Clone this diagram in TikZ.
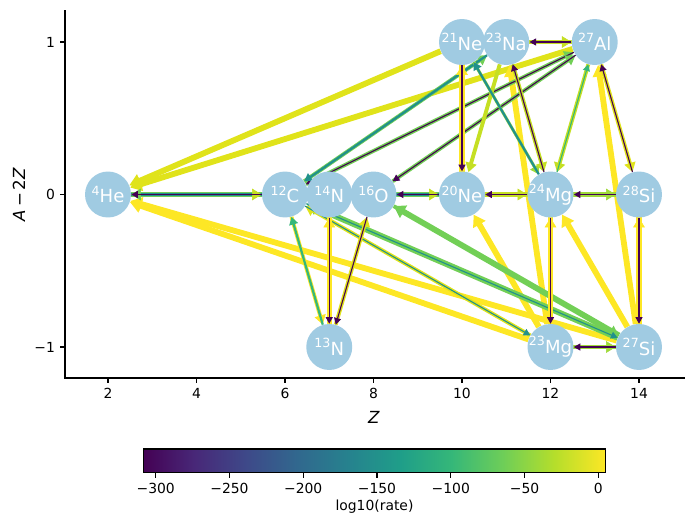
\documentclass[tikz,border=0pt]{standalone}
\usepackage{fontspec}
\setmainfont{DejaVu Sans}
\usetikzlibrary{arrows.meta}
\pgfdeclarelayer{edges}
\pgfsetlayers{edges,main}
\definecolor{nodeblue}{HTML}{A0CBE2}
\definecolor{vY}{HTML}{FDE725}
\definecolor{vYa}{HTML}{E0E31A}
\definecolor{vYG}{HTML}{C5DF23}
\definecolor{vLG}{HTML}{9FDA3A}
\definecolor{vG}{HTML}{72CF56}
\definecolor{vGT}{HTML}{35B779}
\definecolor{vT}{HTML}{21918C}
\definecolor{vD}{HTML}{440154}
\definecolor{v0}{HTML}{440154}
\definecolor{v1}{HTML}{482878}
\definecolor{v2}{HTML}{3E4989}
\definecolor{v3}{HTML}{31688E}
\definecolor{v4}{HTML}{26828E}
\definecolor{v5}{HTML}{1F9E89}
\definecolor{v6}{HTML}{35B779}
\definecolor{v7}{HTML}{6ECE58}
\definecolor{v8}{HTML}{B5DE2B}
\definecolor{v9}{HTML}{FDE725}
\pgfdeclarehorizontalshading{viridis}{100bp}{color(0bp)=(v0); color(25bp)=(v0); color(30.556bp)=(v1); color(36.111bp)=(v2); color(41.667bp)=(v3); color(47.222bp)=(v4); color(52.778bp)=(v5); color(58.333bp)=(v6); color(63.889bp)=(v7); color(69.444bp)=(v8); color(75bp)=(v9); color(100bp)=(v9)}
\newcommand{\iso}[2]{\raisebox{0.43em}{\fontsize{9.1}{9.1}\selectfont #1}#2}
% band between two node centres (hidden under the nodes at its ends)
\newcommand{\vband}[4]{\fill[#1] ([xshift=-#2]#3.center) rectangle ([xshift=#2]#4.center);}
\newcommand{\hband}[4]{\fill[#1] ([yshift=-#2]#3.center) rectangle ([yshift=#2]#4.center);}
\tikzset{
  nd/.style={circle, fill=nodeblue, minimum size=33.1pt, inner sep=0pt},
  lbl/.style={text=white, font=\fontsize{13}{15}\selectfont, inner sep=0pt},
  arr/.style={-{Triangle[length=4pt 1, width=4pt 1.4]}},
  tipm/.style={line width=0.4pt, -{Triangle[length=7pt, width=8.5pt]}},
  lwbig/.style={line width=4.2pt},
  lwmid/.style={line width=2.8pt},
  lwhair/.style={line width=1.6pt},
  lwthin/.style={line width=0.8pt},
  tick/.style={line width=0.8pt},
  ticklbl/.style={font=\fontsize{10}{12}\selectfont, inner sep=0pt},
}
\begin{document}
\begin{tikzpicture}[x=0.72pt, y=-0.72pt]
\useasboundingbox (0,0) rectangle (693,525);
% axes
\draw[tick] (65,10) -- (65,378) -- (685,378);
\foreach \z in {2,4,...,14} {
  \draw[tick] ({19.5+44.25*\z},378) -- ({19.5+44.25*\z},382.9);
  \node[ticklbl, anchor=north] at ({19.5+44.25*\z},387.8) {\z};
}
\draw[tick] (65,42) -- (60.1,42);
\draw[tick] (65,194.5) -- (60.1,194.5);
\draw[tick] (65,347) -- (60.1,347);
\node[ticklbl, anchor=east] (yl1) at (55.2,42) {1};
\node[ticklbl, anchor=east] (yl0) at (55.2,194.5) {0};
\node[ticklbl, anchor=east] (ylm) at (55.2,347) {−1};
\node[font=\fontsize{12}{14}\selectfont, inner sep=0pt] (xlab) at (374,417) {\textit{Z}};
\node[font=\fontsize{12}{14}\selectfont, inner sep=0pt, rotate=90] (ylab) at (19,194.5) {\textit{A}\,−\,2\textit{Z}};
% nodes
\node[nd] (He4) at (108,194.5) {};
\node[nd] (C12) at (285,194.5) {};
\node[nd] (N14) at (329.25,194.5) {};
\node[nd] (O16) at (373.5,194.5) {};
\node[nd] (Ne20) at (462,194.5) {};
\node[nd] (Mg24) at (550.5,194.5) {};
\node[nd] (Si28) at (639,194.5) {};
\node[nd] (N13) at (329.25,347) {};
\node[nd] (Mg23) at (550.5,347) {};
\node[nd] (Si27) at (639,347) {};
\node[nd] (Ne21) at (462,42) {};
\node[nd] (Na23) at (506.25,42) {};
\node[nd] (Al27) at (594.75,42) {};
\node[lbl] (He4l) at (He4) {\iso{4}{He}};
\node[lbl] (C12l) at (C12) {\iso{12}{C}};
\node[lbl] (N14l) at (N14) {\iso{14}{N}};
\node[lbl] (O16l) at (O16) {\iso{16}{O}};
\node[lbl] (Ne20l) at (Ne20) {\iso{20}{Ne}};
\node[lbl] (Mg24l) at (Mg24) {\iso{24}{Mg}};
\node[lbl] (Si28l) at (Si28) {\iso{28}{Si}};
\node[lbl] (N13l) at (N13) {\iso{13}{N}};
\node[lbl] (Mg23l) at (Mg23) {\iso{23}{Mg}};
\node[lbl] (Si27l) at (Si27) {\iso{27}{Si}};
\node[lbl] (Ne21l) at (Ne21) {\iso{21}{Ne}};
\node[lbl] (Na23l) at (Na23) {\iso{23}{Na}};
\node[lbl] (Al27l) at (Al27) {\iso{27}{Al}};
% edges
\begin{pgfonlayer}{edges}
\draw[arr,lwbig,vYa] (Ne21) -- (He4);
\draw[arr,lwbig,vYa] (Al27) -- (He4);
\draw[arr,lwbig,vY] (Mg23) -- (He4);
\draw[arr,lwbig,vY] (Si27) -- (He4);
\draw[arr,lwbig,vY] (Mg23) -- (Na23);
\draw[arr,lwbig,vY] (Si27) -- (Al27);
\draw[arr,lwbig,vY] (Mg23) -- (Ne20);
\draw[arr,lwbig,vY] (Si27) -- (Mg24);
\draw[arr,lwbig,vG] (Si27) -- (O16);
\draw[arr,lwmid,vG] (O16) -- (Si27);
\draw[arr,lwbig,vG] (Si27) -- (C12);
\draw[arr,lwthin,vT] (C12) -- (Si27);
\draw[arr,lwmid,vYa] (Mg23) -- (C12);
\draw[arr,lwthin,vT] (C12) -- (Mg23);
\draw[arr,lwmid,vG] (C12) -- (Al27);
\draw[arr,lwthin,vD] (Al27) -- (C12);
\draw[arr,lwmid,vG] (O16) -- (Al27);
\draw[arr,lwthin,vD] (Al27) -- (O16);
\draw[arr,lwmid,vG] (C12) -- (Na23);
\draw[arr,lwhair,vT] (Na23) -- (C12);
\draw[arr,lwmid,vYG] (Na23) -- (Ne20);
\draw[arr,lwmid,vYG] (Al27) -- (Mg24);
\draw[arr,lwthin,vGT] (Mg24) -- (Al27);
\draw[arr,line width=2.2pt,vLG] (Ne21) -- (Mg24);
\draw[arr,lwhair,vT] (Mg24) -- (Ne21);
\draw[arr,lwmid,vYG] (Na23) -- (Mg24);
\draw[arr,lwthin,vD] (Mg24) -- (Na23);
\draw[arr,lwmid,vY] (C12) -- (N13);
\draw[arr,lwhair,vGT] (N13) -- (C12);
\draw[arr,lwmid,vYa] (N13) -- (O16);
\draw[arr,lwthin,vD] (O16) -- (N13);
\draw[arr,lwmid,vYa] (Al27) -- (Si28);
\draw[arr,lwthin,vD] (Si28) -- (Al27);
% vertical pairs
\vband{vY}{1.9pt}{N13}{N14}
\draw[tipm,vY] (N13) -- (N14);
\draw[arr,lwthin,vD] (N14) -- (N13);
\vband{vY}{1.9pt}{Ne20}{Ne21}
\draw[tipm,vY] (Ne20) -- (Ne21);
\draw[arr,lwthin,vD] (Ne21) -- (Ne20);
\vband{vY}{1.9pt}{Mg23}{Mg24}
\draw[tipm,vY] (Mg23) -- (Mg24);
\draw[arr,lwthin,vD] (Mg24) -- (Mg23);
\vband{vY}{1.9pt}{Si27}{Si28}
\draw[tipm,vY] (Si27) -- (Si28);
\draw[arr,lwthin,vD] (Si28) -- (Si27);
% horizontal pairs
\hband{vG}{2pt}{He4}{C12}
\hband{vT}{0.9pt}{He4}{C12}
\draw[tipm,vYG] (He4) -- (C12);
\draw[tipm,vG] (C12) -- (He4);
\draw[arr,lwthin,vD] (C12) -- (He4);
\hband{vG}{1.8pt}{O16}{Ne20}
\hband{vT}{0.8pt}{O16}{Ne20}
\draw[tipm,vYG] (O16) -- (Ne20);
\draw[arr,lwthin,vD] (Ne20) -- (O16);
\hband{vYG}{1.8pt}{Ne20}{Mg24}
\draw[tipm,vYG] (Ne20) -- (Mg24);
\draw[arr,lwthin,vD] (Mg24) -- (Ne20);
\hband{vLG}{1.8pt}{Mg24}{Si28}
\draw[tipm,vLG] (Mg24) -- (Si28);
\draw[arr,lwthin,vD] (Si28) -- (Mg24);
\hband{vYG}{1.7pt}{Na23}{Al27}
\draw[tipm,vYG] (Na23) -- (Al27);
\draw[arr,lwthin,vD] (Al27) -- (Na23);
\hband{vLG}{1.7pt}{Mg23}{Si27}
\draw[tipm,vLG] (Mg23) -- (Si27);
\draw[arr,lwthin,vD] (Si27) -- (Mg23);
\end{pgfonlayer}
% colorbar
\shade[shading=viridis] (143.3,449) rectangle (605.7,472.7);
\draw[tick] (143.3,449) rectangle (605.7,472.7);
\foreach \v/\t in {-300/−300,-250/−250,-200/−200,-150/−150,-100/−100,-50/−50,0/0} {
  \draw[tick] ({598.3+1.4753*\v},472.7) -- ({598.3+1.4753*\v},477.6);
  \node[ticklbl, anchor=north] at ({598.3+1.4753*\v},482.5) {\t};
}
\node[ticklbl] (cblab) at (374.5,507) {log10(rate)};
\end{tikzpicture}
\end{document}
